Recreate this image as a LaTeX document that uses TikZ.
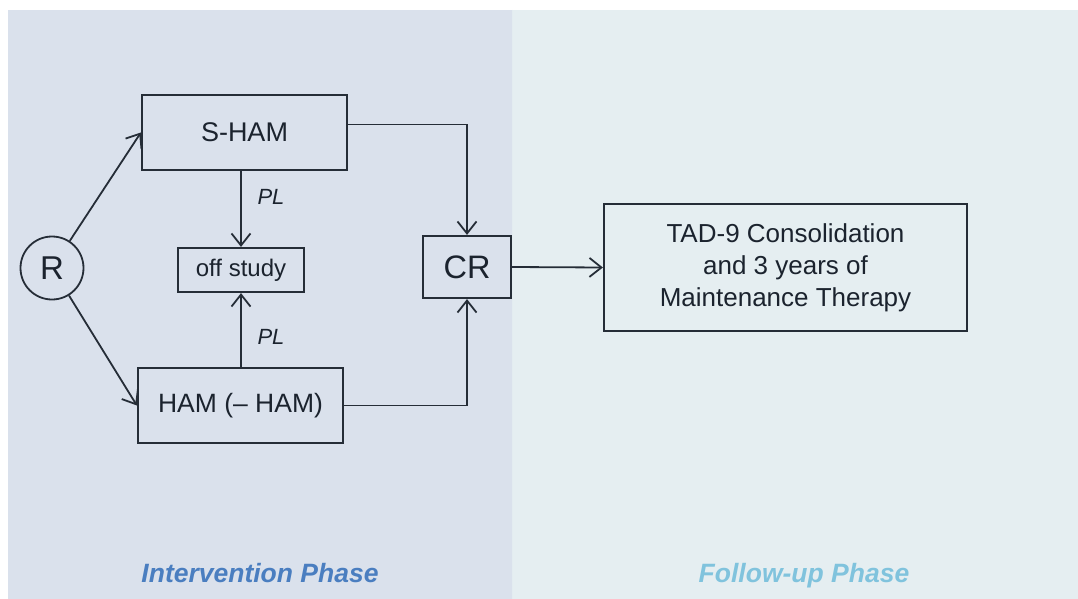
\documentclass[tikz,border=0pt]{standalone}
\usepackage{fontspec}
\setmainfont{Liberation Sans}
\usetikzlibrary{arrows.meta}
\definecolor{leftbg}{HTML}{DAE1EC}
\definecolor{rightbg}{HTML}{E5EEF1}
\definecolor{linec}{HTML}{252D37}
\definecolor{textc}{HTML}{1B232E}
\definecolor{intblue}{HTML}{4A7EC0}
\definecolor{fupblue}{HTML}{80C3DD}
\tikzset{
  box/.style={draw=linec, line width=2.2pt, rectangle, inner sep=0pt, text=textc, align=center},
  conn/.style={draw=linec, line width=1.8pt, -{Straight Barb[length=12pt,width=19pt,line width=1.8pt]}},
  pllabel/.style={text=textc, font=\fontsize{22}{26}\selectfont\itshape},
  phase/.style={anchor=base, font=\fontsize{26.5}{30}\selectfont\bfseries\itshape}
}
\begin{document}
\begin{tikzpicture}[x=1pt,y=-1pt]
\useasboundingbox (0,0) rectangle (1078,599);
\fill[white] (0,0) rectangle (1078,599);
\fill[leftbg] (8,10) rectangle (512,599);
\fill[rightbg] (512,10) rectangle (1078,599);
\draw[rightbg!85!leftbg, line width=1.5pt] (512.5,10) -- (512.5,599);

\node[circle, draw=linec, line width=1.8pt, minimum size=63pt, inner sep=0pt, text=textc, font=\fontsize{33}{36}\selectfont] (R) at (52,268) {R};
\node[box, minimum width=205pt, minimum height=75pt, font=\fontsize{27}{32}\selectfont] (sham) at (244.5,132.5) {S-HAM};
\node[box, minimum width=126pt, minimum height=44pt, font=\fontsize{24}{28}\selectfont] (off) at (241,270) {off study};
\node[box, minimum width=205pt, minimum height=75pt, font=\fontsize{26.5}{32}\selectfont] (ham) at (240.5,405.5) {HAM (– HAM)};
\node[box, minimum width=88pt, minimum height=62pt, font=\fontsize{32.5}{36}\selectfont] (cr) at (467,267) {CR};
\node[box, minimum width=363pt, minimum height=127pt, font=\fontsize{26}{32}\selectfont] (tad) at (785.5,267.5) {TAD-9 Consolidation\\and 3 years of\\Maintenance Therapy};

\node[pllabel] (pl1) at (271,197) {PL};
\node[pllabel] (pl2) at (271,337) {PL};

\draw[conn] (R) -- (sham.west);
\draw[conn] (R) -- (ham.west);
\draw[conn] (off.north |- sham.south) -- (off.north);
\draw[conn] (off.south |- ham.north) -- (off.south);
\draw[conn] ([yshift=8pt]sham.east) -| (cr.north);
\draw[conn] (ham.east) -| (cr.south);
\draw[conn] (cr.east) -- (tad.west);

\node[phase, text=intblue] (ip) at (260,582) {Intervention Phase};
\node[phase, text=fupblue] (fp) at (804,582) {Follow-up Phase};
\end{tikzpicture}
\end{document}
